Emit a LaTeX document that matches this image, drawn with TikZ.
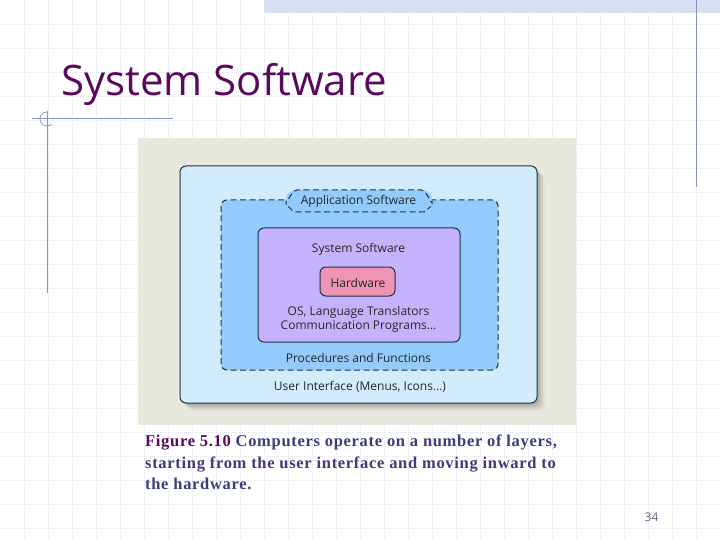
\documentclass[tikz,border=0pt]{standalone}
\usepackage{fontspec}
\setmainfont{Open Sans}
\newfontfamily\capfont[LetterSpace=4.2]{Liberation Serif}
\definecolor{gridc}{HTML}{E0E4EA}
\definecolor{bandc}{HTML}{D6E0F0}
\definecolor{linec}{HTML}{8492BC}
\definecolor{titlec}{HTML}{5A0A5E}
\definecolor{captc}{HTML}{3C3C78}
\definecolor{panelc}{HTML}{E8E8DC}
\definecolor{outerc}{HTML}{D2ECFE}
\definecolor{midc}{HTML}{92CBFC}
\definecolor{purpc}{HTML}{C4B2FC}
\definecolor{hardc}{HTML}{EE94B4}
\definecolor{edgec}{HTML}{1C3448}
\tikzset{
  gridline/.style={gridc,line width=0.8pt,dash pattern=on 1pt off 1pt},
  rule/.style={linec,line width=1pt},
  box/.style={draw=edgec,line width=1pt,rounded corners=6pt},
  dashbox/.style={draw=edgec,line width=1pt,dash pattern=on 6pt off 3.5pt,rounded corners=6pt},
  lbl/.style={font=\fontsize{12}{14}\selectfont,text=black!85,inner sep=0pt,align=center},
}
\begin{document}
\begin{tikzpicture}[x=1pt,y=-1pt]
\useasboundingbox (0,0) rectangle (720,540);
\fill[white] (0,0) rectangle (720,540);
% grid
\foreach \g in {24,48,...,696} \draw[gridline] (\g+0.7,0) -- (\g+0.7,540);
\foreach \g in {24,48,...,528} \draw[gridline] (0,\g) -- (720,\g);
% header band and rules
\fill[bandc] (264,0) rectangle (720,13);
\draw[rule] (696,0) -- (696,187);
\draw[rule] (47,111) -- (47,293);
\draw[rule] (32,119) -- (173,119);
\draw[rule,line width=0.7pt] (47,112) arc[start angle=-90,delta angle=-225,radius=7];
% title
\node[anchor=base west,inner sep=0pt,text=titlec,font=\fontsize{42}{48}\selectfont] (title) at (61,96) {System Software};
% panel
\fill[panelc] (138,138) rectangle (575.5,425);
\foreach \o/\a in {8/0.02,7/0.03,6/0.03,5/0.04,4/0.04,3/0.05,2/0.05}
  \fill[black,opacity=\a,rounded corners=7pt] (180+\o,166+\o) rectangle (537+\o,403+\o);
\draw[box,fill=outerc] (180,166) rectangle (537,403);
% procedures layer
\draw[dashbox,fill=midc] (221,200) rectangle (498,370);
% application tab
\fill[midc,rounded corners=10pt] (286,190) rectangle (432,212);
\draw[edgec,line width=1pt,dash pattern=on 6pt off 3.5pt]
  (286,205) -- (286,201) to[out=-90,in=180] (297,190) -- (421,190) to[out=0,in=-90] (432,201) -- (432,205);
\draw[edgec,line width=1pt,dash pattern=on 6pt off 3.5pt]
  (288,207) to[out=90,in=180,looseness=0.7] (295,212) -- (424,212) to[out=0,in=90,looseness=0.7] (431,207);
% system layer
\draw[box,fill=purpc] (258,228) rectangle (460,342);
\draw[box,fill=hardc] (320,267) rectangle (395,296);
% labels
\node[lbl] (app) at (358.5,201.5) {Application Software};
\node[lbl] (sys) at (358.5,249) {System Software};
\node[lbl] (hw) at (358,282.5) {Hardware};
\node[lbl,font=\fontsize{12}{14.2}\selectfont] (os) at (358.5,319.5) {OS, Language Translators\\Communication Programs\dots};
\node[lbl] (proc) at (358.5,357.5) {Procedures and Functions};
\node[lbl] (ui) at (360,386.5) {User Interface (Menus, Icons\dots)};
% caption
\node[anchor=north west,inner sep=0pt,align=left,text=captc,font=\capfont\bfseries\fontsize{16.5}{21.7}\selectfont] (cap) at (145,434.5)
 {\textcolor{titlec}{Figure 5.10} Computers operate on a number of layers,\\starting from the user interface and moving inward to\\the hardware.};
\node[anchor=base,inner sep=0pt,text=linec!70!black,font=\fontsize{12}{14}\selectfont] (num) at (651.5,521) {34};
\end{tikzpicture}
\end{document}
